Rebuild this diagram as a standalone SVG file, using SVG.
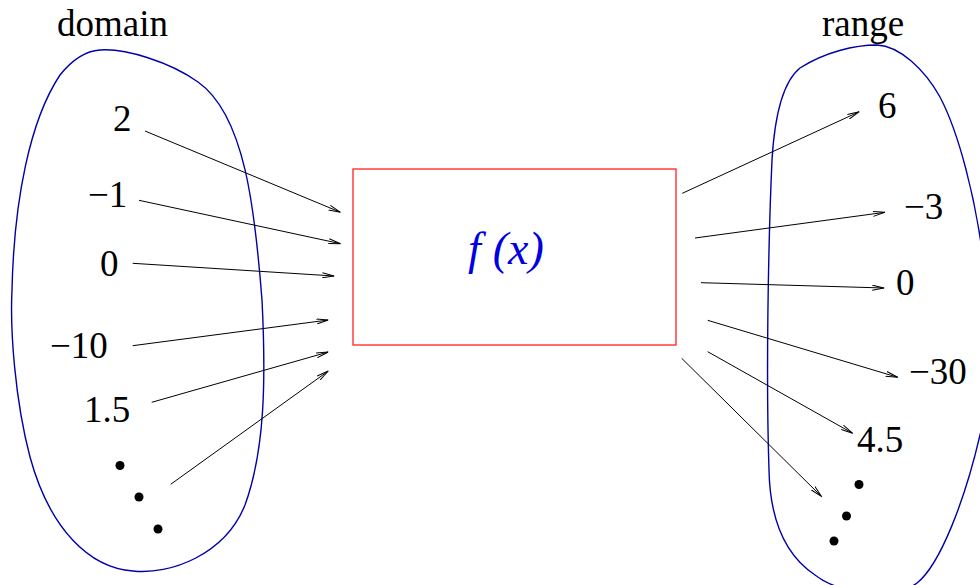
<svg xmlns="http://www.w3.org/2000/svg" width="980" height="585" viewBox="0 0 980 585">
<style>
  .lbl { font-family: "Liberation Serif", "Times New Roman", serif; font-size: 37px; fill: #000; }
  .blob { fill: none; stroke: #0000a8; stroke-width: 1.4; }
  .arr { fill: none; stroke: #000; stroke-width: 1; marker-end: url(#ah); }
  .dot { fill: #000; }
</style>
<defs>
  <marker id="ah" viewBox="0 0 12 6" refX="12" refY="3" markerWidth="12" markerHeight="6" orient="auto" markerUnits="userSpaceOnUse">
    <path d="M0,0.5 L12,3 L0,5.5" fill="none" stroke="#000" stroke-width="1"/>
  </marker>
</defs>
<rect width="980" height="585" fill="#fff"/>

<g id="domain">
  <path class="blob" d="M100,50 C125,48 170,62 198,82 C245,115 255,210 262,300 C266,380 265,450 245,505 C225,555 170,575 133,571 C90,568 50,530 30,457 C15,400 10,330 12,290 C14,200 30,120 60,75 C72,60 85,51 100,50 Z"/>
  <text class="lbl" x="57" y="36">domain</text>
  <text class="lbl" x="113" y="131">2</text>
  <text class="lbl" x="88" y="207">−1</text>
  <text class="lbl" x="100" y="276">0</text>
  <text class="lbl" x="50" y="358">−10</text>
  <text class="lbl" x="84" y="422">1.5</text>
  <circle class="dot" cx="120" cy="465.5" r="4.5"/>
  <circle class="dot" cx="139" cy="497" r="4.5"/>
  <circle class="dot" cx="158" cy="529" r="4.5"/>
</g>

<g id="range">
  <path class="blob" d="M877,45 C900,46 925,70 940,97 C960,135 975,200 982,250 C992,330 990,400 980,435 C965,500 940,565 917,583 C895,600 840,595 815,575 C785,555 770,520 769,470 C766,380 768,250 772,160 C775,110 785,80 800,68 C825,52 855,45 877,45 Z"/>
  <text class="lbl" x="822" y="36">range</text>
  <text class="lbl" x="878" y="118">6</text>
  <text class="lbl" x="904" y="219">−3</text>
  <text class="lbl" x="896" y="295">0</text>
  <text class="lbl" x="909" y="384">−30</text>
  <text class="lbl" x="857" y="452">4.5</text>
  <circle class="dot" cx="859" cy="484.5" r="4.5"/>
  <circle class="dot" cx="846.5" cy="516" r="4.5"/>
  <circle class="dot" cx="834" cy="541" r="4.5"/>
</g>

<g id="function">
  <rect x="353" y="169" width="323" height="176" fill="none" stroke="#ff2020" stroke-width="1.3"/>
  <text x="468" y="264" font-family="Liberation Serif, Times New Roman, serif" font-style="italic" font-size="46" fill="#0000e0">f<tspan dx="12">(x)</tspan></text>
</g>

<g id="connectors">
  <line class="arr" x1="145" y1="131" x2="340.5" y2="212.3"/>
  <line class="arr" x1="139" y1="200.3" x2="340.5" y2="243.7"/>
  <line class="arr" x1="132.7" y1="263.3" x2="334.3" y2="276"/>
  <line class="arr" x1="132.7" y1="345.7" x2="328.3" y2="320"/>
  <line class="arr" x1="151.7" y1="402.3" x2="328.3" y2="352"/>
  <line class="arr" x1="170.7" y1="484.3" x2="328.3" y2="371"/>
  <line class="arr" x1="682.3" y1="193.3" x2="859.3" y2="111.7"/>
  <line class="arr" x1="695" y1="238" x2="885" y2="212.3"/>
  <line class="arr" x1="701" y1="282.7" x2="884.3" y2="288"/>
  <line class="arr" x1="707.7" y1="320.3" x2="897.7" y2="377.3"/>
  <line class="arr" x1="707.7" y1="351.7" x2="852.7" y2="433.3"/>
  <line class="arr" x1="681.7" y1="358.3" x2="821.7" y2="496.7"/>
</g>
</svg>
